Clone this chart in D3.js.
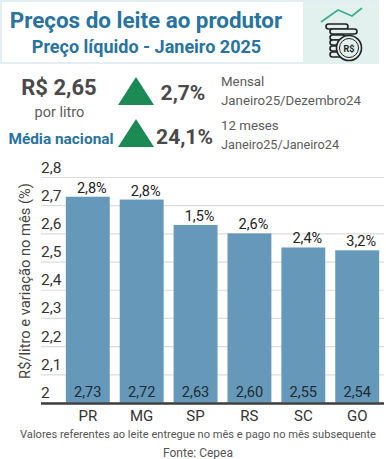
<!DOCTYPE html>
<html>
<head>
<meta charset="utf-8">
<script src="https://cdn.jsdelivr.net/npm/d3@7"></script>
<style>
  html, body { margin: 0; padding: 0; background: #fff; }
  svg { display: block; font-family: Roboto, sans-serif; }
</style>
</head>
<body>
<script>
var w = 386;
var h = 459;

var estados = ["PR", "MG", "SP", "RS", "SC", "GO"];
var precos = [2.73, 2.72, 2.63, 2.60, 2.55, 2.54];
var variacao = ["2,8%", "2,8%", "1,5%", "2,6%", "2,4%", "3,2%"];
var yTicks = [2, 2.1, 2.2, 2.3, 2.4, 2.5, 2.6, 2.7, 2.8];

var azul = "#28739f";
var cinza = "#4a4a4a";
var verde = "#1c8a55";
var virgula = d3.format(".2f");

var svg = d3.select("body").append("svg")
  .attr("width", w)
  .attr("height", h);

function texto(x, y, str, size, color, weight, anchor) {
  return svg.append("text")
    .attr("x", x)
    .attr("y", y)
    .attr("font-size", size)
    .attr("fill", color)
    .attr("font-weight", weight || 400)
    .attr("text-anchor", anchor || "start")
    .text(str);
}

// cabecalho
svg.append("rect").attr("width", 379).attr("height", 64).attr("fill", "#e3eef3");
svg.append("rect").attr("x", 2).attr("y", 2).attr("width", 301).attr("height", 60).attr("fill", "#fff");
svg.append("rect").attr("x", 303).attr("y", 2).attr("width", 76).attr("height", 62).attr("fill", "#e2f1ee");

texto(146, 28, "Preços do leite ao produtor", 22.4, azul, 700, "middle");
texto(146.5, 53, "Preço líquido - Janeiro 2025", 18, azul, 700, "middle");

// icone
var icone = svg.append("g").attr("fill", "none").attr("stroke", "#222").attr("stroke-width", 1.6);
icone.append("path")
  .attr("d", "M321 22L338 10L352 16L362 8")
  .attr("stroke", "#3fae8e")
  .attr("stroke-width", 1.8);
[[326, 24, 22], [330, 29, 27], [330, 35, 15], [330, 40, 15], [330, 46, 15], [330, 52, 15]].forEach(function (m) {
  icone.append("rect")
    .attr("x", m[0])
    .attr("y", m[1])
    .attr("width", m[2])
    .attr("height", 5)
    .attr("rx", 2.5)
    .attr("fill", "#e2f1ee");
});
icone.append("circle").attr("cx", 349).attr("cy", 48).attr("r", 12.5).attr("fill", "#e2f1ee");
icone.append("circle").attr("cx", 349).attr("cy", 48).attr("r", 9.5).attr("stroke-width", 1);
texto(349, 51.5, "R$", 9, "#222", 700, "middle");

// resumo
texto(59, 95, "R$ 2,65", 22, cinza, 700, "middle");
texto(59.5, 117, "por litro", 14.5, "#5c5c5c", 400, "middle");
texto(61, 144, "Média nacional", 15.4, azul, 700, "middle");

function triangulo(x0, x1, y0, y1) {
  svg.append("path")
    .attr("d", d3.line()([[x0, y1], [(x0 + x1) / 2, y0], [x1, y1]]) + "Z")
    .attr("fill", verde);
}
triangulo(118, 154, 77, 105);
triangulo(118, 154, 119, 147);

texto(183, 99.5, "2,7%", 21, cinza, 700, "middle");
texto(184.5, 143.5, "24,1%", 21, cinza, 700, "middle");

texto(221, 86, "Mensal", 13.3, "#5c5c5c");
texto(221, 105, "Janeiro25/Dezembro24", 13.3, "#5c5c5c");
texto(221, 130, "12 meses", 13.3, "#5c5c5c");
texto(221, 149, "Janeiro25/Janeiro24", 12.7, "#5c5c5c");

// grafico
var x = d3.scaleBand()
  .domain(estados)
  .range([61, 384])
  .paddingInner(0.185)
  .paddingOuter(0.09);

var y = d3.scaleLinear()
  .domain([2, 2.8])
  .range([402.5, 177]);

var yAxis = svg.append("g")
  .attr("transform", "translate(41,0)")
  .call(d3.axisLeft(y)
    .tickValues(yTicks)
    .tickSize(-343)
    .tickFormat(function (d) { return d === 2 ? "2" : String(d).replace(".", ","); }));
yAxis.select(".domain").remove();
yAxis.selectAll("line").attr("stroke", "#dcdcdc").attr("stroke-width", 1.2);
yAxis.selectAll("text")
  .attr("x", 0)
  .attr("dy", "-0.32em")
  .attr("text-anchor", "start")
  .attr("font-family", "Roboto, sans-serif")
  .attr("font-size", 15.5)
  .attr("fill", "#333");

svg.selectAll(".bar")
  .data(precos)
  .enter().append("rect")
  .attr("class", "bar")
  .attr("x", function (d, i) { return x(estados[i]); })
  .attr("y", function (d) { return y(d); })
  .attr("width", x.bandwidth())
  .attr("height", function (d) { return y(2) - y(d); })
  .attr("fill", "#6699b9");

svg.selectAll(".valor")
  .data(precos)
  .enter().append("text")
  .attr("class", "valor")
  .attr("x", function (d, i) { return x(estados[i]) + x.bandwidth() / 2; })
  .attr("y", 397)
  .attr("text-anchor", "middle")
  .attr("font-size", 14.6)
  .attr("fill", "#1d2b33")
  .text(function (d) { return virgula(d).replace(".", ","); });

svg.selectAll(".variacao")
  .data(precos)
  .enter().append("text")
  .attr("class", "variacao")
  .attr("x", function (d, i) { return x(estados[i]) + x.bandwidth() / 2 + 4; })
  .attr("y", function (d) { return y(d) - 4; })
  .attr("text-anchor", "middle")
  .attr("font-size", 14.5)
  .attr("fill", "#222")
  .text(function (d, i) { return variacao[i]; });

svg.append("line")
  .attr("x1", 41)
  .attr("x2", 384)
  .attr("y1", y(2) + 1)
  .attr("y2", y(2) + 1)
  .attr("stroke", "#3d3d3d")
  .attr("stroke-width", 2.4);

var xAxis = svg.append("g")
  .attr("transform", "translate(0,403)")
  .call(d3.axisBottom(x).tickSize(0).tickPadding(7));
xAxis.select(".domain").remove();
xAxis.selectAll("text")
  .attr("font-family", "Roboto, sans-serif")
  .attr("font-size", 15)
  .attr("fill", "#333");

svg.append("text")
  .attr("transform", "translate(30,281) rotate(-90)")
  .attr("text-anchor", "middle")
  .attr("font-size", 14.7)
  .attr("fill", "#444")
  .text("R$/litro e variação no mês (%)");

texto(198, 438, "Valores referentes ao leite entregue no mês e pago no mês subsequente", 11.1, "#555", 400, "middle");
texto(198, 457, "Fonte: Cepea", 12, "#555", 400, "middle");
</script>
</body>
</html>
